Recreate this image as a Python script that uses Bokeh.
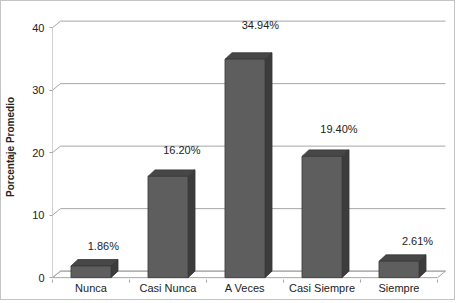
from bokeh.plotting import figure
from bokeh.models import Range1d, FixedTicker, ColumnDataSource
from bokeh.embed import file_html
from bokeh.resources import INLINE
from bokeh.core.properties import value

# ---- data ----
categories = ["Nunca", "Casi Nunca", "A Veces", "Casi Siempre", "Siempre"]
percent = [1.86, 16.20, 34.94, 19.40, 2.61]
value_labels = ["1.86%", "16.20%", "34.94%", "19.40%", "2.61%"]
y_ticks = [0, 10, 20, 30, 40]
y_axis_title = "Porcentaje Promedio"

# ---- geometry / style ----
W, H = 455, 300
LEFT, RIGHT, TOP, BOTTOM = 51, 8, 13, 22
PX_X = 77.0      # pixels per category
PX_Y = 6.25      # pixels per percent unit
Y_START = -0.3
frame_w = W - LEFT - RIGHT
frame_h = H - TOP - BOTTOM
x_end = frame_w / PX_X
y_end = Y_START + frame_h / PX_Y

WALL_DX, WALL_DY = 8 / PX_X, 6.5 / PX_Y     # depth of the 3D walls
BAR_DX, BAR_DY = 7 / PX_X, 6.5 / PX_Y       # depth of the 3D bars
BAR_W = 0.52
FONT = "Liberation Sans"
GRID = "#a6a6a6"
TXT = "#222222"

n = len(categories)
y_max = max(y_ticks)

p = figure(width=W, height=H, output_backend="svg", toolbar_location=None,
           x_range=Range1d(0, x_end), y_range=Range1d(Y_START, y_end),
           min_border_left=LEFT, min_border_right=RIGHT,
           min_border_top=TOP, min_border_bottom=BOTTOM)
p.styles = {"border": "1px solid #c4c4c4"}
p.outline_line_color = None
p.xgrid.visible = False
p.ygrid.visible = False
p.background_fill_color = "white"
p.border_fill_color = "white"

# floor
p.patch([0, n, n + WALL_DX, WALL_DX], [0, 0, WALL_DY, WALL_DY],
        fill_color="white", line_color=GRID, line_width=1)

# back-wall gridlines and left-wall connectors
p.segment(x0=[WALL_DX] * len(y_ticks), x1=[n + WALL_DX] * len(y_ticks),
          y0=[v + WALL_DY for v in y_ticks], y1=[v + WALL_DY for v in y_ticks],
          line_color=GRID, line_width=1)
p.segment(x0=[0] * len(y_ticks), x1=[WALL_DX] * len(y_ticks),
          y0=y_ticks, y1=[v + WALL_DY for v in y_ticks],
          line_color=GRID, line_width=1)
# front value axis line
p.segment(x0=[0], x1=[0], y0=[0], y1=[y_max], line_color=GRID, line_width=1)

# bars
centers = [i + 0.5 for i in range(n)]
lefts = [c - BAR_W / 2 for c in centers]
rights = [c + BAR_W / 2 for c in centers]
src = ColumnDataSource(dict(left=lefts, right=rights, top=percent,
                            bottom=[0] * n))
top_xs = [[l, r, r + BAR_DX, l + BAR_DX] for l, r in zip(lefts, rights)]
top_ys = [[v, v, v + BAR_DY, v + BAR_DY] for v in percent]
side_xs = [[r, r + BAR_DX, r + BAR_DX, r] for r in rights]
side_ys = [[0, BAR_DY, v + BAR_DY, v] for v in percent]
p.patches(top_xs, top_ys, fill_color="#474747", line_color="#363636", line_width=0.8)
p.patches(side_xs, side_ys, fill_color="#3c3c3c", line_color="#363636", line_width=0.8)
p.quad(left="left", right="right", top="top", bottom="bottom", source=src,
       fill_color="#5e5e5e", line_color="#3a3a3a", line_width=0.8)

# value labels (Excel 3D perspective placement)
lab_x = [c + 0.16 + 0.02 * i for i, c in enumerate(centers)]
lab_y = [1.07 * v + 3.1 for v in percent]
p.text(x=lab_x, y=lab_y, text=value_labels, text_font=value(FONT),
       text_font_size="11px", text_align="center", text_baseline="middle",
       text_color=TXT)

# y axis
ya = p.yaxis[0]
ya.ticker = FixedTicker(ticks=y_ticks, minor_ticks=[])
ya.axis_line_color = None
ya.major_tick_line_color = GRID
ya.major_tick_out = 3
ya.major_tick_in = 0
ya.major_label_standoff = 5
ya.major_label_text_font = FONT
ya.major_label_text_font_size = "11px"
ya.major_label_text_color = TXT
ya.axis_label = y_axis_title
ya.axis_label_text_font = FONT
ya.axis_label_text_font_size = "10px"
ya.axis_label_text_font_style = "bold"
ya.axis_label_text_color = TXT
ya.axis_label_standoff = 13

# x axis
xa = p.xaxis[0]
xa.ticker = FixedTicker(ticks=centers, minor_ticks=list(range(n + 1)))
xa.major_label_overrides = {c: cat for c, cat in zip(centers, categories)}
xa.axis_line_color = None
xa.major_tick_line_color = None
xa.major_tick_out = 0
xa.major_tick_in = 0
xa.minor_tick_line_color = GRID
xa.minor_tick_out = 3
xa.minor_tick_in = 0
xa.major_label_standoff = -1
xa.major_label_text_font = FONT
xa.major_label_text_font_size = "11px"
xa.major_label_text_color = TXT

open("out.html", "w").write(file_html(p, INLINE))
